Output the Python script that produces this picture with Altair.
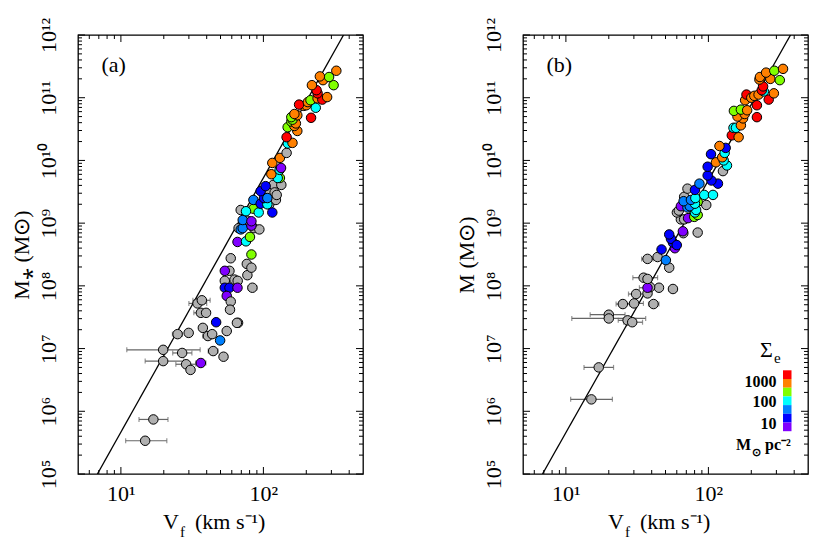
import altair as alt
import pandas as pd

# ---------------- panel (a): stellar mass ----------------
A_V = [14.8, 16.9, 19.8, 19.8, 25.0, 26.9, 28.7, 29.9, 30.8, 34.5, 37.0, 36.4, 39.6, 37.6, 40.8, 43.7,
       36.4, 44.4, 46.6, 49.7, 52.5, 55.3, 57.8, 53.6, 53.6, 53.6, 57.8, 55.3, 59.0, 58.3, 62.7, 66.0,
       65.8, 66.4, 65.2, 77.2, 76.5, 82.4, 83.7, 82.4, 59.0,
       67.0, 85.9, 93.7, 77.0, 69.3, 65.8, 75.5, 80.5, 69.3, 71.6, 82.4, 71.6, 82.4, 85.1, 75.5, 92.7,
       85.1, 110.0, 122.4, 109.4, 117.4, 119.9, 124.0, 133.6, 95.7, 106.6, 115.5, 100.9, 106.6, 95.7,
       103.7, 130.6, 126.0, 113.7, 130.0, 133.0, 115.5, 130.6, 145.5, 148.6, 160.0, 145.5,
       173, 148, 165, 157, 169, 160, 157, 173, 165, 216, 233, 192, 200, 178, 205, 214, 240, 259, 280,
       240, 236, 219, 311, 262, 289, 249, 325]
A_LOGM = [5.53, 5.87, 6.98, 6.80, 7.23, 6.93, 6.75, 7.25, 6.66, 7.72, 7.77, 7.57, 7.57, 7.33, 7.20, 7.23,
          6.77, 6.96, 7.42, 7.13, 6.87, 7.28, 8.24, 8.24, 8.08, 7.97, 7.97, 7.84, 7.75, 7.62, 8.10, 8.08,
          7.97, 7.41, 7.41, 8.17, 8.35, 8.29, 7.97, 8.50, 8.44,
          8.92, 8.92, 8.90, 9.04, 9.21, 8.70, 8.71, 8.78, 8.90, 8.92, 8.96, 9.05, 9.03, 9.23, 9.19, 9.17,
          9.37, 9.30, 9.37, 9.52, 9.61, 9.49, 9.45, 9.61, 9.31, 9.30, 9.17, 9.40, 9.40, 9.51,
          9.59, 9.72, 9.72, 9.78, 9.85, 9.88, 9.96, 10.04, 10.12, 10.27, 10.28, 10.37,
          10.47, 10.53, 10.55, 10.62, 10.59, 10.65, 10.69, 10.72, 10.74, 10.68, 10.84, 10.87, 10.88,
          10.89, 10.93, 10.96, 10.99, 10.97, 11.01, 11.07, 11.12, 11.20, 11.20, 11.28, 11.33, 11.34, 11.43]
A_COL = ['N', 'N', 'N', 'N', 'N', 'N', 'N', 'N', 'N', 'N', 'N', 'N', 'N', 'N', 'N', 'N',
         'P', 'N', 'B', 'A', 'N', 'N', 'N', 'P', 'N', 'B', 'B', 'P', 'N', 'N', 'N', 'N',
         'P', 'N', 'N', 'N', 'N', 'N', 'N', 'G', 'N',
         'N', 'N', 'N', 'N', 'N', 'P', 'C', 'G', 'A', 'A', 'P', 'A', 'P', 'G', 'C', 'C',
         'A', 'N', 'N', 'N', 'N', 'N', 'N', 'N', 'B', 'C', 'B', 'B', 'A', 'B',
         'B', 'G', 'C', 'O', 'C', 'P', 'O', 'O', 'N', 'C', 'O', 'R',
         'O', 'G', 'O', 'G', 'O', 'G', 'G', 'O', 'O', 'R', 'C', 'O', 'O', 'R', 'O', 'G', 'O', 'R', 'O',
         'R', 'R', 'O', 'G', 'O', 'G', 'O', 'O']
# horizontal error bars of panel (a)
A_EV = [14.8, 16.9, 19.8, 19.8, 25.0, 26.9, 28.7, 34.5, 37.0, 36.4, 36.4, 44.4, 52.5, 58.3, 66.4, 83.7, 40.8]
A_ELOGM = [5.53, 5.87, 6.98, 6.80, 7.23, 6.93, 6.75, 7.72, 7.77, 7.57, 6.77, 6.96, 6.87, 7.62, 7.41, 7.97, 7.20]
A_ELO = [10.8, 13.4, 11.0, 14.8, 23.0, 23.1, 24.3, 30.0, 32.0, 32.5, 33.5, 41.0, 50.0, 55.0, 62.0, 78.0, 37.5]
A_EHI = [21.0, 21.4, 36.0, 27.6, 27.0, 31.5, 33.6, 40.0, 42.3, 41.0, 39.5, 48.0, 55.5, 62.0, 70.0, 90.0, 44.0]
A_LINE_V = [6.84, 365.0]
A_LINE_M = [1e5, 1e12]

# ---------------- panel (b): baryonic mass ----------------
B_V = [15.1, 17.0, 20.0, 20.0, 27.1, 29.2, 25.1, 30.1, 41.2, 31.1, 37.4, 45.0, 56.4, 39.0, 37.4, 35.1,
       37.4, 53.1, 37.4, 44.0, 50.3, 46.9, 58.2, 56.4, 54.6, 53.1, 60.0, 66.7, 84.1, 66.2, 64.1, 67.6,
       60.1, 62.0, 67.6, 71.3, 96.6, 72.0, 79.6, 84.1, 80.5, 82.0, 64.1, 71.3, 74.0, 67.0, 84.1, 80.5,
       75.4, 81.0, 93.5, 107.7, 80.5, 86.5, 116.7, 105.0, 98.8, 98.8, 126.5, 113.0, 135.0, 128.0,
       104.3, 125.0, 130.0, 132.2, 119.6, 146, 163, 150, 156, 169, 175, 160, 180, 151, 169, 187,
       219, 181, 185, 219, 200, 210, 225, 245, 237, 242, 265, 288, 228, 230, 272, 254, 317, 290, 334]
B_LOGM = [6.19, 6.70, 7.54, 7.48, 7.45, 7.42, 7.71, 7.72, 7.71, 7.87, 7.88, 7.97, 7.95, 7.98, 7.97, 8.13,
          8.11, 8.29, 8.43, 8.46, 8.41, 8.58, 8.60, 8.69, 8.75, 8.82, 8.65, 8.84, 8.85, 8.87, 9.06, 9.06,
          9.17, 9.20, 9.42, 9.55, 9.29, 9.08, 9.10, 9.13, 9.17, 9.21, 9.27, 9.25, 9.27, 9.35, 9.34, 9.31,
          9.37, 9.40, 9.45, 9.45, 9.53, 9.63, 9.63, 9.68, 9.76, 9.90, 9.83, 9.97, 9.92, 10.00,
          10.10, 10.05, 10.12, 10.20, 10.23, 10.40, 10.37, 10.52, 10.52, 10.56, 10.67, 10.70, 10.74,
          10.79, 10.81, 10.80, 10.69, 10.96, 11.05, 10.88, 11.00, 11.03, 11.05, 11.10, 11.12, 11.18,
          10.97, 11.07, 11.29, 11.33, 11.30, 11.40, 11.28, 11.43, 11.46]
B_COL = ['N', 'N', 'N', 'N', 'N', 'N', 'N', 'N', 'N', 'N', 'N', 'N', 'N', 'N', 'P', 'N',
         'N', 'N', 'N', 'N', 'A', 'B', 'P', 'B', 'B', 'B', 'B', 'N', 'N', 'P', 'N', 'N',
         'N', 'N', 'N', 'N', 'N', 'P', 'G', 'G', 'C', 'C', 'P', 'A', 'A', 'A', 'G', 'C',
         'A', 'C', 'C', 'C', 'B', 'A', 'B', 'B', 'B', 'B', 'N', 'O', 'C', 'C',
         'B', 'O', 'C', 'B', 'O', 'R', 'O', 'C', 'C', 'O', 'O', 'O', 'O', 'G', 'G', 'O',
         'R', 'O', 'R', 'R', 'O', 'O', 'O', 'C', 'R', 'R', 'R', 'O', 'O', 'O', 'O', 'O', 'G', 'G', 'O']
B_EV = [15.1, 17.0, 20.0, 20.0, 27.1, 29.2, 25.1, 30.1, 31.1, 37.4, 56.4, 35.1, 37.4, 84.1, 41.2]
B_ELOGM = [6.19, 6.70, 7.54, 7.48, 7.45, 7.42, 7.71, 7.72, 7.87, 7.97, 7.95, 8.13, 8.43, 8.85, 7.71]
B_ELO = [10.8, 13.4, 14.8, 11.0, 23.3, 25.5, 22.5, 26.5, 27.5, 32.8, 53.0, 29.5, 34.0, 79.0, 38.0]
B_EHI = [21.2, 21.6, 26.0, 36.3, 31.0, 34.5, 28.0, 35.0, 35.5, 40.8, 60.0, 44.0, 41.0, 89.0, 45.0]
B_LINE_V = [6.85, 377.0]
B_LINE_M = [1e5, 1e12]

# ---------------- colours / legend ----------------
CODES = ['R', 'O', 'G', 'C', 'A', 'B', 'P', 'N']
COLORS = ['#ff0000', '#ff8000', '#80ff00', '#00ffff', '#0080ff', '#0000ff', '#8000ff', '#b0b0b0']
LEG_COLORS = COLORS[:7]
LEG_LABELS = ['1000', '100', '10']

Y_EXP = list(range(5, 13))
X_EXP = [1, 2]
X_DOMAIN = [5, 500]
Y_DOMAIN = [1e5, 1e12]

W, H = 285, 439
FONT = 'Liberation Serif'
SUP = str.maketrans('0123456789-', '⁰¹²³⁴⁵⁶⁷⁸⁹⁻')


def label_expr(exps):
    s = "''"
    for e in sorted(exps):
        s = f"(datum.value > {5 * 10 ** (e - 1)} ? '10{str(e).translate(SUP)}' : {s})"
    return s


Y_MINOR = [k * 10 ** n for n in range(5, 12) for k in range(2, 10)]
Y_MAJOR = [10 ** e for e in Y_EXP]
X_MAJOR = [10 ** e for e in X_EXP]
X_MINOR = [k * 10 ** n for n in range(0, 3) for k in range(2, 10) if 5 < k * 10 ** n < 500]

XS = alt.Scale(type='log', domain=X_DOMAIN, nice=False)
YS = alt.Scale(type='log', domain=Y_DOMAIN, nice=False)

XAXIS = alt.Axis(values=X_MAJOR, labelExpr=label_expr(X_EXP), ticks=False, tickSize=0, domain=False,
                 grid=False, title=None, labelFont=FONT, labelFontSize=22, labelColor='black',
                 labelPadding=9, labelFlush=False)


def yaxis(title):
    return alt.Axis(values=Y_MAJOR, labelExpr=label_expr(Y_EXP), labelAngle=270, labelAlign='center',
                    labelBaseline='bottom', ticks=False, tickSize=0, domain=False, grid=False,
                    title=title, titleFont=FONT, titleFontSize=22, titleFontWeight='normal',
                    titleColor='black', titlePadding=4, labelFont=FONT, labelFontSize=22,
                    labelColor='black', labelPadding=18, labelFlush=False, labelOverlap=False)


one = pd.DataFrame({'z': [0]})


def txt(text, x, y, size, align='left', baseline='alphabetic', weight='normal'):
    return alt.Chart(one).mark_text(text=text, font=FONT, fontSize=size, align=align,
                                    baseline=baseline, fontWeight=weight, color='black').encode(
        x=alt.value(x), y=alt.value(y))


def ticks(values, side, length, ya):
    df = pd.DataFrame({'t': values})
    ch = alt.Chart(df).mark_rule(color='black', strokeWidth=1)
    if side in ('left', 'right'):
        x0 = 0 if side == 'left' else W
        x1 = length if side == 'left' else W - length
        return ch.encode(y=alt.Y('t:Q', scale=YS, axis=ya), x=alt.value(x0), x2=alt.value(x1))
    y0 = H if side == 'bottom' else 0
    y1 = H - length if side == 'bottom' else length
    return ch.encode(x=alt.X('t:Q', scale=XS, axis=XAXIS), y=alt.value(y0), y2=alt.value(y1))


def panel(v, logm, col, ev, elogm, elo, ehi, lv, lm, ylab, tag, legend):
    ya = yaxis(ylab)
    pts = pd.DataFrame({'V': v, 'M': [10 ** m for m in logm], 'c': col})
    err = pd.DataFrame({'V': ev, 'M': [10 ** m for m in elogm], 'lo': elo, 'hi': ehi})
    line = pd.DataFrame({'V': lv, 'M': lm})

    bars = alt.Chart(err).mark_rule(color='#666666', strokeWidth=1.2).encode(
        x=alt.X('lo:Q', scale=XS, axis=XAXIS), x2='hi:Q', y=alt.Y('M:Q', scale=YS, axis=ya))
    cap_lo = alt.Chart(err).mark_tick(orient='vertical', color='#666666', size=5, thickness=1.2).encode(
        x=alt.X('lo:Q', scale=XS, axis=XAXIS), y=alt.Y('M:Q', scale=YS, axis=ya))
    cap_hi = alt.Chart(err).mark_tick(orient='vertical', color='#666666', size=5, thickness=1.2).encode(
        x=alt.X('hi:Q', scale=XS, axis=XAXIS), y=alt.Y('M:Q', scale=YS, axis=ya))
    fit = alt.Chart(line).mark_line(color='black', strokeWidth=1.3, clip=True).encode(
        x=alt.X('V:Q', scale=XS, axis=XAXIS), y=alt.Y('M:Q', scale=YS, axis=ya))
    dots = alt.Chart(pts).mark_circle(size=90, stroke='black', strokeWidth=1, opacity=1).encode(
        x=alt.X('V:Q', scale=XS, axis=XAXIS),
        y=alt.Y('M:Q', scale=YS, axis=ya),
        color=alt.Color('c:N', scale=alt.Scale(domain=CODES, range=COLORS), legend=None))

    layers = [bars, cap_lo, cap_hi, fit, dots,
              ticks(Y_MAJOR, 'left', 7, ya), ticks(Y_MINOR, 'left', 4, ya),
              ticks(Y_MAJOR, 'right', 7, ya), ticks(Y_MINOR, 'right', 4, ya),
              ticks(X_MAJOR, 'bottom', 7, ya), ticks(X_MINOR, 'bottom', 4, ya),
              ticks(X_MAJOR, 'top', 7, ya), ticks(X_MINOR, 'top', 4, ya),
              txt(tag, 23.5, 30, 22, baseline='middle'),
              txt('V', 85, H + 55, 22), txt('f', 102, H + 63, 15),
              txt('(km  s⁻¹)', 117, H + 55, 22)]
    if legend:
        n = len(LEG_COLORS)
        leg = pd.DataFrame({'col': LEG_COLORS,
                            'y0': [335.3 + 8.7 * i for i in range(n)],
                            'y1': [335.3 + 8.7 * (i + 1) for i in range(n)]})
        layers.append(alt.Chart(leg).mark_rect().encode(
            x=alt.value(260), x2=alt.value(268.5),
            y=alt.Y('y0:Q', scale=None), y2='y1:Q',
            color=alt.Color('col:N', scale=None)))
        for lab, yy in zip(LEG_LABELS, [346.7, 367.3, 389.3]):
            layers.append(txt(lab, 253.5, yy, 16, align='right', baseline='middle', weight='bold'))
        layers.append(txt('Σ', 237, 322, 22))
        layers.append(txt('e', 251, 328, 15))
        layers.append(txt('M', 213, 415, 16, weight='bold'))
        layers.append(txt('⊙', 229, 421, 11, weight='bold'))
        layers.append(txt('pc⁻²', 242, 415, 16, weight='bold'))
    return alt.layer(*layers).properties(width=W, height=H)


pa = panel(A_V, A_LOGM, A_COL, A_EV, A_ELOGM, A_ELO, A_EHI, A_LINE_V, A_LINE_M, 'M⁎ (M⊙)', '(a)', False)
pb = panel(B_V, B_LOGM, B_COL, B_EV, B_ELOGM, B_ELO, B_EHI, B_LINE_V, B_LINE_M, 'M (M⊙)', '(b)', True)

chart = alt.hconcat(pa, pb, spacing=160, bounds='flush').properties(
    padding={'left': 1, 'top': 8, 'right': 0, 'bottom': 0}, background='white'
).configure_view(stroke='black', strokeWidth=1.3)

chart.save("out.html", embed_options={"renderer": "svg", "actions": False})
